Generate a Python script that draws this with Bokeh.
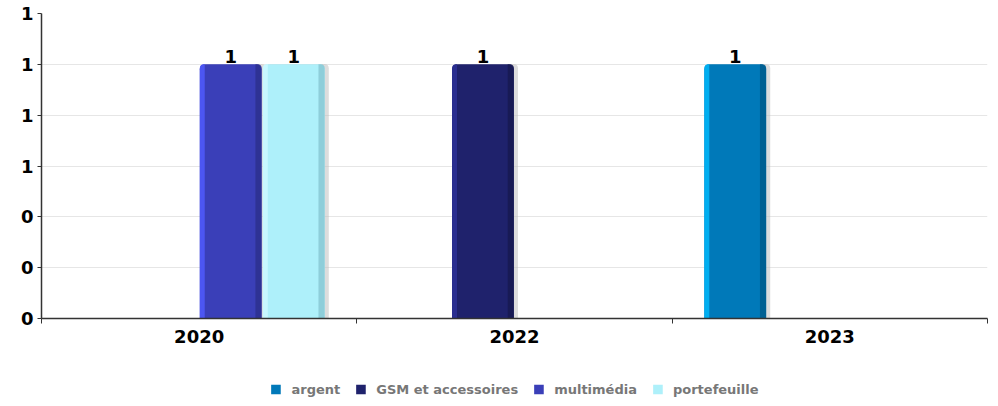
from bokeh.plotting import figure
from bokeh.layouts import column
from bokeh.models import (ColumnDataSource, FixedTicker, PrintfTickFormatter,
                          Legend, LegendItem, Range1d)
from bokeh.core.properties import value
from bokeh.transform import dodge
from bokeh.embed import file_html
from bokeh.resources import INLINE

years = ["2020", "2022", "2023"]
series = ["argent", "GSM et accessoires", "multimédia", "portefeuille"]
values = {
    "argent": [0, 0, 1],
    "GSM et accessoires": [0, 1, 0],
    "multimédia": [1, 0, 0],
    "portefeuille": [1, 0, 0],
}
colors = ["#0079b9", "#1f226c", "#3a3fb8", "#aef0fa"]
highlights = ["#00aef0", "#2a2e90", "#4c56f2", "#c8f8ff"]
shades = ["#005a8a", "#161950", "#2c2f8c", "#86c6d2"]
y_ticks = [0, 0.2, 0.4, 0.6, 0.8, 1.0, 1.2]

offsets = [-0.3, -0.1, 0.1, 0.3]
bar_w = 0.196

FONT = "DejaVu Sans"

p = figure(frame_width=946, frame_height=305, output_backend="svg",
           toolbar_location=None, x_range=Range1d(0, 3), y_range=Range1d(0, 1.2),
           min_border_left=41, min_border_right=3, min_border_top=13,
           min_border_bottom=56)
p.outline_line_color = None
p.xgrid.grid_line_color = None
p.ygrid.grid_line_color = "#e6e6e6"
p.ygrid.ticker = FixedTicker(ticks=y_ticks)

for i, s in enumerate(series):
    xs, ys = [], []
    for j, yv in enumerate(values[s]):
        if yv > 0:
            xs.append(j + 0.5 + offsets[i])
            ys.append(yv)
    src = ColumnDataSource(dict(x=xs, top=ys, lbl=[f"{v:.0f}" for v in ys]))
    # shadow
    p.vbar(x=dodge("x", 0.013, range=p.x_range), top="top", width=bar_w, source=src,
           fill_color="#bbbbbb", fill_alpha=0.5, line_color=None,
           border_radius=(4, 4, 0, 0))
    p.vbar(x="x", top="top", width=bar_w, source=src, fill_color=colors[i],
           line_color=None, border_radius=(5, 5, 0, 0))
    # left highlight strip and right shade strip
    p.vbar(x=dodge("x", -bar_w * 0.46, range=p.x_range), top="top", width=bar_w * 0.08,
           source=src, fill_color=highlights[i], line_color=None,
           border_radius=(4, 0, 0, 0))
    p.vbar(x=dodge("x", bar_w * 0.45, range=p.x_range), top="top", width=bar_w * 0.1,
           source=src, fill_color=shades[i], fill_alpha=0.8, line_color=None,
           border_radius=(0, 4, 0, 0))
    p.text(x="x", y="top", text="lbl", source=src, text_align="center",
           text_baseline="bottom", y_offset=-1, text_font=value(FONT),
           text_font_style="bold", text_font_size="18px", text_color="#000000")

# y axis
p.yaxis.ticker = FixedTicker(ticks=y_ticks)
p.yaxis.formatter = PrintfTickFormatter(format="%.0f")
p.yaxis.major_label_text_font = FONT
p.yaxis.major_label_text_font_style = "bold"
p.yaxis.major_label_text_font_size = "18px"
p.yaxis.major_label_text_color = "#000000"
p.yaxis.major_tick_in = 0
p.yaxis.major_tick_out = 4
p.yaxis.minor_tick_line_color = None
p.yaxis.axis_line_color = "#333333"
p.yaxis.axis_line_width = 1.5
p.yaxis.major_tick_line_color = "#333333"
p.yaxis.major_label_standoff = 4

# x axis
p.xaxis.ticker = FixedTicker(ticks=[j + 0.5 for j in range(len(years))],
                             minor_ticks=list(range(len(years) + 1)))
p.xaxis.major_label_overrides = {j + 0.5: y for j, y in enumerate(years)}
p.xaxis.major_label_text_font = FONT
p.xaxis.major_label_text_font_style = "bold"
p.xaxis.major_label_text_font_size = "18px"
p.xaxis.major_label_text_color = "#000000"
p.xaxis.major_tick_in = 0
p.xaxis.major_tick_out = 0
p.xaxis.minor_tick_in = 0
p.xaxis.minor_tick_out = 5
p.xaxis.minor_tick_line_color = "#333333"
p.xaxis.axis_line_color = "#333333"
p.xaxis.axis_line_width = 1.5
p.xaxis.major_label_standoff = 6

# legend strip below the chart (carrier glyphs have zero height, so nothing shows)
lf = figure(width=990, height=30, output_backend="svg", toolbar_location=None,
            x_range=Range1d(0, 1), y_range=Range1d(0, 1),
            x_axis_type=None, y_axis_type=None, min_border=0)
lf.outline_line_color = None
lf.xgrid.grid_line_color = None
lf.ygrid.grid_line_color = None
items = []
for i, s in enumerate(series):
    r = lf.vbar(x=[0], top=[0], bottom=[0], width=0, fill_color=colors[i],
                line_color=None)
    items.append(LegendItem(label=s, renderers=[r]))
legend = Legend(items=items, orientation="horizontal", location="center",
                label_text_font=FONT, label_text_font_style="bold",
                label_text_font_size="13px", label_text_color="#777777",
                label_height=16, glyph_width=12, glyph_height=12,
                label_standoff=10, spacing=14,
                border_line_color=None, background_fill_alpha=0, margin=0,
                padding=2)
lf.add_layout(legend)

layout = column(p, lf, spacing=0)
open("out.html", "w").write(file_html(layout, INLINE))
